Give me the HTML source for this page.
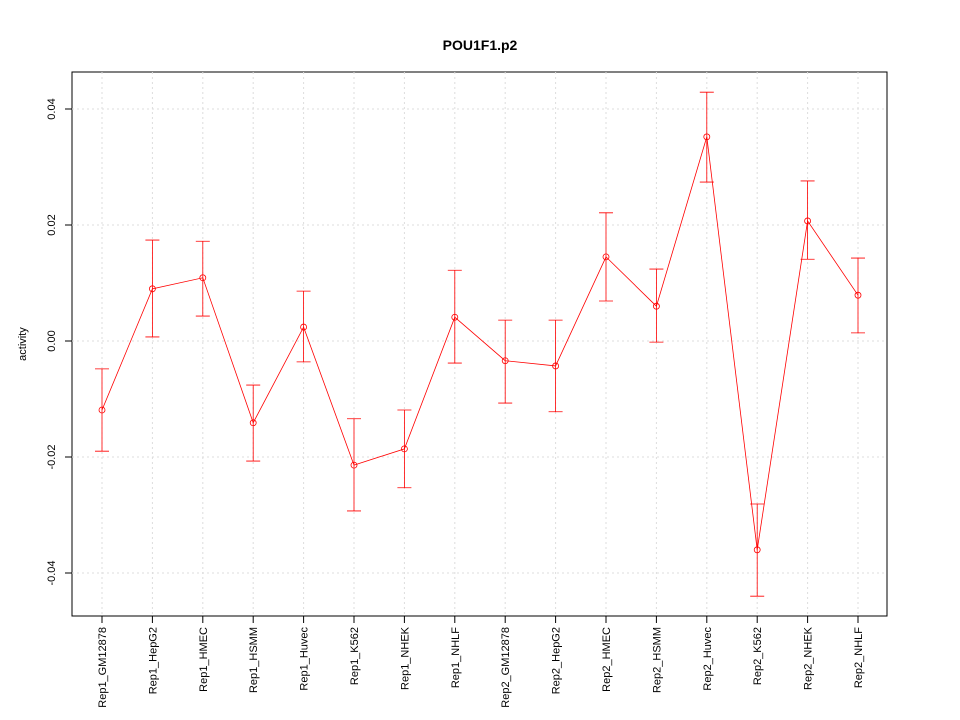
<!DOCTYPE html>
<html><head><meta charset="utf-8"><style>body{margin:0;background:#fff}svg{display:block;font-family:"Liberation Sans",sans-serif}</style></head>
<body>
<svg id="chart" width="960" height="720">
<text x="480" y="50" text-anchor="middle" font-size="14" font-weight="bold">POU1F1.p2</text>
<text transform="translate(26,344) rotate(-90)" text-anchor="middle" font-size="11">activity</text>
<rect x="72" y="72" width="815" height="544" fill="none" stroke="#000"/>
<g id="grid"></g><g id="axes"></g><g id="marks"></g>
</svg>
<script>
const categories=["Rep1_GM12878","Rep1_HepG2","Rep1_HMEC","Rep1_HSMM","Rep1_Huvec","Rep1_K562","Rep1_NHEK","Rep1_NHLF","Rep2_GM12878","Rep2_HepG2","Rep2_HMEC","Rep2_HSMM","Rep2_Huvec","Rep2_K562","Rep2_NHEK","Rep2_NHLF"];
const values=[-0.0119,0.0090,0.0109,-0.0141,0.0024,-0.0214,-0.0186,0.0041,-0.0034,-0.0043,0.0145,0.0060,0.0352,-0.0360,0.0207,0.0079];
const upper=[-0.0048,0.0174,0.0172,-0.0076,0.0086,-0.0134,-0.0119,0.0122,0.0036,0.0036,0.0221,0.0124,0.0429,-0.0281,0.0276,0.0143];
const lower=[-0.0190,0.0007,0.0043,-0.0207,-0.0036,-0.0293,-0.0253,-0.0038,-0.0107,-0.0122,0.0069,-0.0002,0.0274,-0.0440,0.0141,0.0014];
const yTicks=[-0.04,-0.02,0.00,0.02,0.04];
const yTickLabels=["-0.04","-0.02","0.00","0.02","0.04"];
const NS="http://www.w3.org/2000/svg";
const xs=i=>102+i*(756/(categories.length-1));
const ys=v=>341-v*5800;
function mk(tag,attrs,parent){const e=document.createElementNS(NS,tag);for(const k in attrs)e.setAttribute(k,attrs[k]);document.getElementById(parent).appendChild(e);return e;}
yTicks.forEach((t,i)=>{
  const y=ys(t);
  const g=mk('line',{x1:72,x2:887,y1:y,y2:y,stroke:'#dddddd','stroke-dasharray':'2,3'},'grid');
  
  
  const tk=mk('line',{x1:65,x2:72,y1:y,y2:y,stroke:'#000'},'axes');
  
  
  const tx=mk('text',{transform:`translate(55,${y}) rotate(-90)`,'text-anchor':'middle','font-size':'11'},'axes');
  tx.textContent=yTickLabels[i];
  
  
});
categories.forEach((c,i)=>{
  const x=xs(i);
  const g=mk('line',{x1:x,x2:x,y1:72,y2:616,stroke:'#dddddd','stroke-dasharray':'2,3'},'grid');
  
  
  const tk=mk('line',{x1:x,x2:x,y1:616,y2:623,stroke:'#000'},'axes');
  
  
  const tx=mk('text',{transform:`translate(${x+4},627) rotate(-90)`,'text-anchor':'end','font-size':'11'},'axes');
  tx.textContent=c;
  
  
});
let pts=values.map((v,i)=>xs(i)+','+ys(v)).join(' ');
const pl=mk('polyline',{points:pts,fill:'none',stroke:'#ff0000','stroke-width':0.8},'marks');


values.forEach((v,i)=>{
  const x=xs(i);
  const eb=mk('path',{d:`M${x},${ys(upper[i])}V${ys(lower[i])}M${x-7},${ys(upper[i])}H${x+7}M${x-7},${ys(lower[i])}H${x+7}`,stroke:'#ff0000',fill:'none','stroke-width':0.8},'marks');
  
  
  const p=mk('circle',{cx:x,cy:ys(v),r:3,fill:'none',stroke:'#ff0000','stroke-width':0.8},'marks');
  
  
});
</script>
</body></html>
